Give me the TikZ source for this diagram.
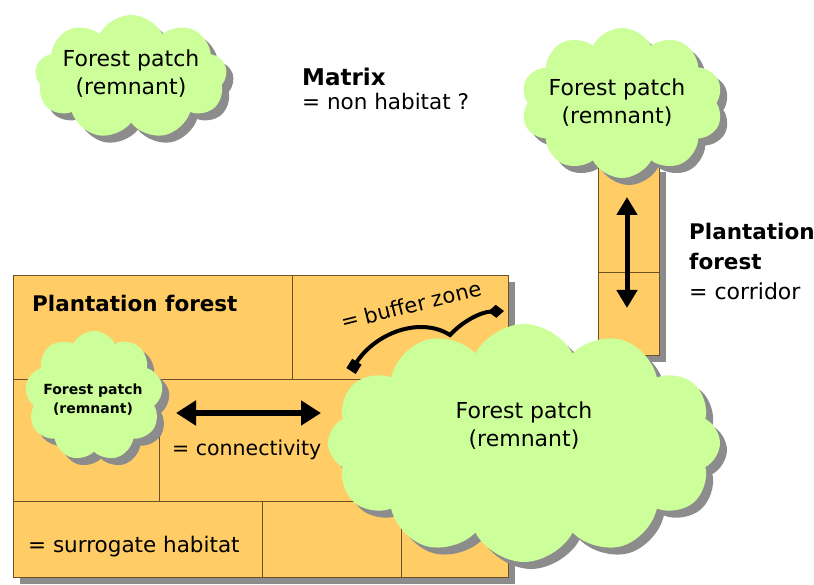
\documentclass[tikz,border=0pt]{standalone}
\usepackage{fontspec}
\setmainfont{DejaVu Sans}
\usetikzlibrary{shapes.symbols,shadows,arrows.meta}
\definecolor{plant}{RGB}{255,204,102}
\definecolor{leaf}{RGB}{204,255,153}
\definecolor{shade}{RGB}{140,140,140}
\definecolor{edge}{RGB}{110,80,40}
\tikzset{
  shadowed/.style={drop shadow={shadow xshift=7pt,shadow yshift=-7pt,fill=shade,opacity=1}},
  patch/.style={cloud, cloud puffs=#1, cloud puff arc=125, fill=leaf, draw=none, inner sep=0pt, shadowed},
  patch/.default=11,
  plantbox/.style={rectangle, fill=plant, draw=edge, line width=0.8pt, inner sep=0pt, shadowed},
  grid/.style={draw=edge, line width=0.8pt},
  reg/.style={font=\fontsize{21.5}{28}\selectfont, inner sep=0pt, align=center},
  cloudtxt/.style={font=\fontsize{22}{28}\selectfont, inner sep=0pt, align=center},
  small/.style={font=\bfseries\fontsize{14}{19}\selectfont, inner sep=0pt, align=center},
  heading/.style={font=\bfseries\fontsize{21.5}{30}\selectfont, inner sep=0pt},
  dbl/.style={line width=6pt, {Triangle[length=20pt,width=24pt]}-{Triangle[length=20pt,width=24pt]}},
  dblv/.style={line width=5pt, {Triangle[length=18pt,width=20pt]}-{Triangle[length=18pt,width=20pt]}},
  buffer/.style={line width=4pt, {Square[length=11pt,width=11pt]}-{Diamond[length=16pt,width=13pt]}},
}
\begin{document}
\begin{tikzpicture}[x=1pt,y=-1pt]
\useasboundingbox (0,0) rectangle (814,585);
% plantation block
\node[plantbox, minimum width=495pt, minimum height=302pt] (plant) at (260.5,426) {};
\draw[grid] (13,379) -- (508,379);
\draw[grid] (292,275) -- (292,379);
\draw[grid] (159,379) -- (159,501);
\draw[grid] (13,501) -- (508,501);
\draw[grid] (262,501) -- (262,577);
\draw[grid] (401,501) -- (401,577);
% corridor
\node[plantbox, minimum width=61pt, minimum height=190pt] (corr) at (628.5,260) {};
\draw[grid] (598,272) -- (659,272);
% clouds
\node[patch=9, minimum width=138pt, minimum height=130pt] (p3) at (94,396) {};
\node[patch=12, minimum width=392pt, minimum height=238pt] (p4) at (524,443) {};
\node[patch=10, minimum width=202pt, minimum height=150pt] (p2) at (622,103) {};
\node[patch=9, minimum width=192pt, minimum height=124pt] (p1) at (131,77) {};
% cloud texts
\node[cloudtxt] (t1) at (131,74) {Forest patch\\(remnant)};
\node[cloudtxt] (t2) at (617,103) {Forest patch\\(remnant)};
\node[cloudtxt] (t4) at (524,426) {Forest patch\\(remnant)};
\node[small] (t3) at (93,400) {Forest patch\\(remnant)};
% labels
\node[heading, anchor=base west, font=\bfseries\fontsize{23}{30}\selectfont] (matrix) at (302,86) {Matrix};
\node[reg, anchor=base west] (nonhab) at (302,110) {= non habitat ?};
\node[heading, anchor=base west] (pf) at (32,312) {Plantation forest};
\node[reg, anchor=base west] (surr) at (28,552) {= surrogate habitat};
\node[reg, anchor=base west, font=\fontsize{20.5}{28}\selectfont] (conn) at (172,455) {= connectivity};
\node[heading, anchor=base west] (pf2) at (689,240) {Plantation};
\node[heading, anchor=base west] (pf3) at (689,270) {forest};
\node[reg, anchor=base west, font=\fontsize{22}{28}\selectfont] (corrtxt) at (689,300) {= corridor};
\node[reg, rotate=14, font=\fontsize{21}{28}\selectfont] (buf) at (411,305) {= buffer zone};
% arrows
\coordinate (cA) at (176,413);
\coordinate (cB) at (321,413);
\draw[dbl] (cA) -- (cB);
\coordinate (kA) at (627,197);
\coordinate (kB) at (627,308);
\draw[dblv] (kA) -- (kB);
\coordinate (bA) at (351,371);
\coordinate (bM) at (450,335);
\coordinate (bB) at (504,311);
\draw[buffer] (bA) .. controls (375,333) and (420,316) .. (bM) .. controls (462,322) and (480,312) .. (bB);
\end{tikzpicture}
\end{document}
